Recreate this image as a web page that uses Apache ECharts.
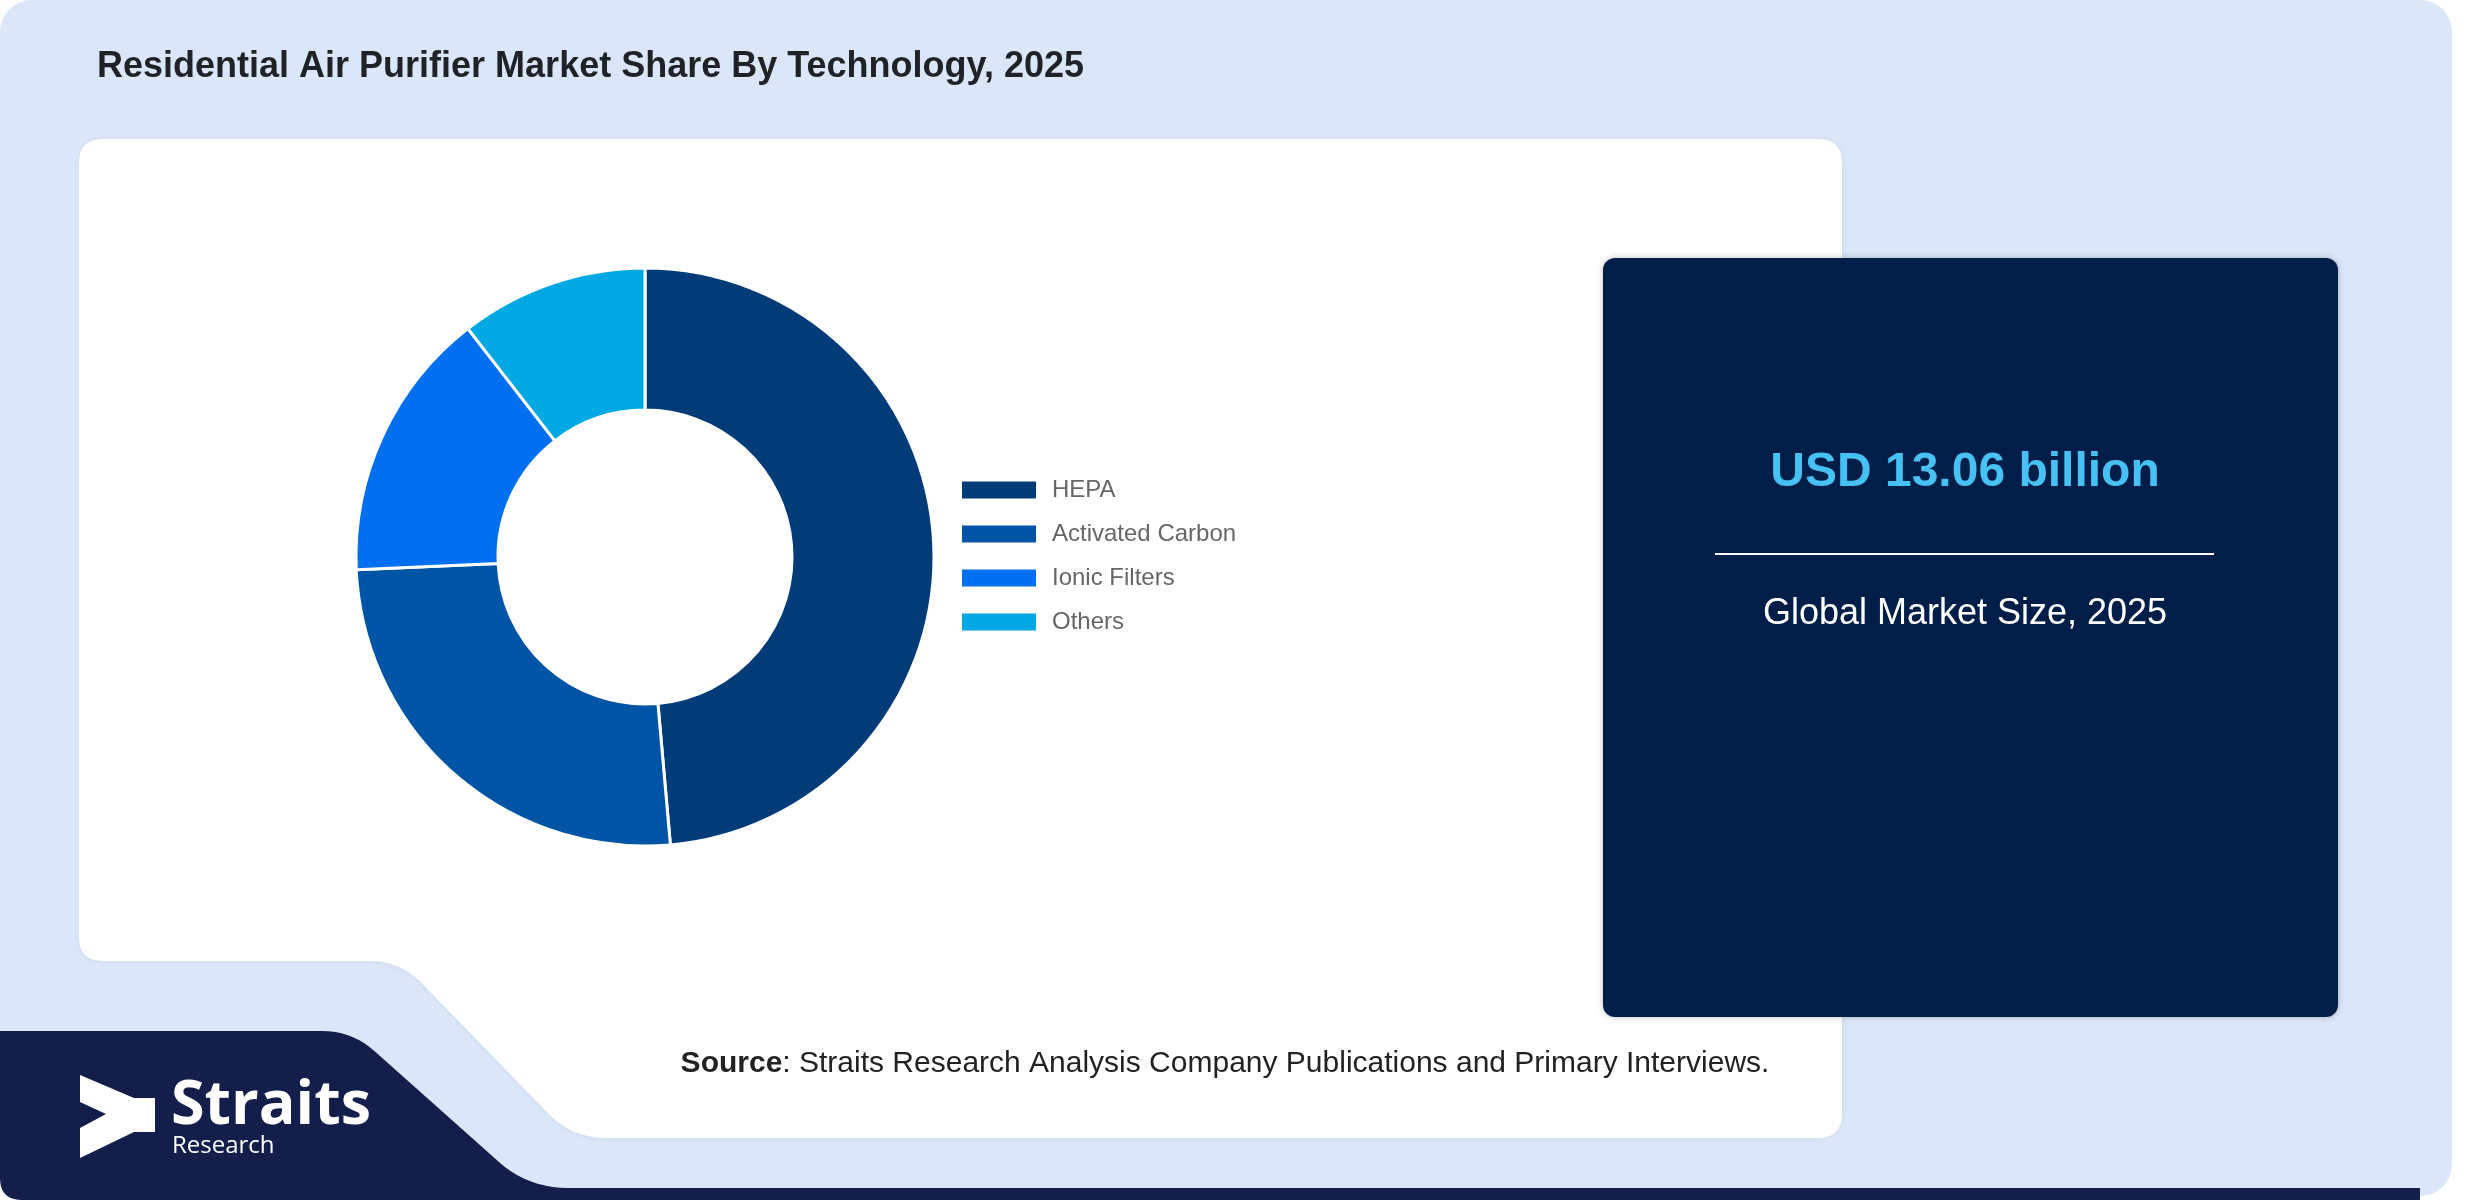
<!DOCTYPE html>
<html>
<head>
<meta charset="utf-8">
<script src="https://cdn.jsdelivr.net/npm/echarts@6/dist/echarts.min.js"></script>
<style>
html,body{margin:0;padding:0;background:#ffffff;}
#chart{width:2480px;height:1200px;}
</style>
</head>
<body>
<div id="chart"></div>
<script>
const categories = ['HEPA', 'Activated Carbon', 'Ionic Filters', 'Others'];
const shares = [48.6, 25.7, 15.2, 10.5];
const sliceColors = ['#023c78', '#0054a6', '#0070f0', '#00a8e4'];
const titleText = 'Residential Air Purifier Market Share By Technology, 2025';
const marketValue = 'USD 13.06 billion';
const marketLabel = 'Global Market Size, 2025';
const sourceText = ': Straits Research Analysis Company Publications and Primary Interviews.';

// helper: round the corners of a polygon (vertices with per-vertex radius)
function rounded(verts) {
  const out = [];
  const n = verts.length;
  for (let i = 0; i < n; i++) {
    const p = verts[i], r = p[2] || 0;
    if (!r) { out.push([p[0], p[1]]); continue; }
    const a = verts[(i - 1 + n) % n], b = verts[(i + 1) % n];
    const v1 = [a[0] - p[0], a[1] - p[1]], v2 = [b[0] - p[0], b[1] - p[1]];
    const l1 = Math.hypot(v1[0], v1[1]), l2 = Math.hypot(v2[0], v2[1]);
    const u1 = [v1[0] / l1, v1[1] / l1], u2 = [v2[0] / l2, v2[1] / l2];
    const s = [p[0] + u1[0] * r, p[1] + u1[1] * r];
    const e = [p[0] + u2[0] * r, p[1] + u2[1] * r];
    for (let k = 0; k <= 10; k++) {
      const t = k / 10;
      const x = (1 - t) * (1 - t) * s[0] + 2 * (1 - t) * t * p[0] + t * t * e[0];
      const y = (1 - t) * (1 - t) * s[1] + 2 * (1 - t) * t * p[1] + t * t * e[1];
      out.push([x, y]);
    }
  }
  return out;
}

const navyPanel = rounded([[0,1031,0],[352,1031,30],[528,1188,40],[2420,1188,0],[2420,1200,0],[0,1200,22]]);
const whiteCard = rounded([[79,139,24],[1842,139,24],[1842,1138,24],[572,1138,34],[400,961,30],[79,961,24]]);

const chart = echarts.init(document.getElementById('chart'), null, {renderer: 'canvas'});
const FONT = '"Liberation Sans", Arial, sans-serif';

const option = {
  animation: false,
  backgroundColor: '#ffffff',
  graphic: [
    { type: 'rect', z: -10, shape: {x: 0, y: 0, width: 2452, height: 1196, r: 32}, style: {fill: '#dbe7f8'} },
    { type: 'polygon', z: -9, shape: {points: navyPanel}, style: {fill: '#131f4a'} },
    { type: 'polygon', z: -8, shape: {points: whiteCard}, style: {fill: '#ffffff', shadowBlur: 6, shadowColor: 'rgba(0,0,0,0.06)'} },
    { type: 'rect', z: -7, shape: {x: 1603, y: 258, width: 735, height: 759, r: 12}, style: {fill: '#011e48', shadowBlur: 6, shadowColor: 'rgba(0,0,0,0.25)'} },
    { type: 'line', z: -6, shape: {x1: 1715, y1: 554, x2: 2214, y2: 554}, style: {stroke: '#ffffff', lineWidth: 2} },
    { type: 'text', z: 5, style: {x: 97, y: 67, text: titleText, fill: '#1f2328', font: 'bold 36px ' + FONT, textVerticalAlign: 'middle'} },
    { type: 'text', z: 5, style: {x: 1965, y: 473, text: marketValue, fill: '#47c1f4', font: 'bold 48px ' + FONT, textAlign: 'center', textVerticalAlign: 'middle'} },
    { type: 'text', z: 5, style: {x: 1965, y: 614, text: marketLabel, fill: '#ffffff', font: '36px ' + FONT, textAlign: 'center', textVerticalAlign: 'middle'} },
    { type: 'text', z: 5, style: {x: 1225, y: 1064, text: '{b|Source}' + sourceText, fill: '#222222', font: '30px ' + FONT, textAlign: 'center', textVerticalAlign: 'middle',
        rich: {b: {fontWeight: 'bold', fontSize: 30, fontFamily: FONT, fill: '#222222'}}} },
    { type: 'polygon', z: 5, shape: {points: [[80,1075],[134,1098],[155,1098],[155,1132],[134,1132],[80,1158],[80,1128],[106,1114],[80,1102]]}, style: {fill: '#ffffff'} },
    { type: 'text', z: 5, style: {x: 171, y: 1107, text: 'Straits', fill: '#ffffff', font: 'bold 61px "Open Sans", sans-serif', textVerticalAlign: 'middle'} },
    { type: 'text', z: 5, style: {x: 172, y: 1146, text: 'Research', fill: '#ffffff', font: '24px "Open Sans", sans-serif', textVerticalAlign: 'middle'} }
  ],
  legend: {
    orient: 'vertical',
    left: 960,
    top: 478,
    padding: 0,
    itemWidth: 76,
    itemHeight: 19,
    itemGap: 20,
    icon: 'rect',
    data: categories,
    textStyle: {color: '#666666', fontSize: 24, fontFamily: FONT, lineHeight: 24, padding: [0, 0, 0, 10]},
    selectedMode: false
  },
  series: [{
    type: 'pie',
    center: [645, 557],
    radius: [147, 289],
    startAngle: 90,
    clockwise: true,
    label: {show: false},
    labelLine: {show: false},
    emphasis: {disabled: true},
    itemStyle: {borderColor: '#ffffff', borderWidth: 3},
    data: categories.map((c, i) => ({name: c, value: shares[i], itemStyle: {color: sliceColors[i]}}))
  }]
};
chart.setOption(option);
</script>
</body>
</html>
